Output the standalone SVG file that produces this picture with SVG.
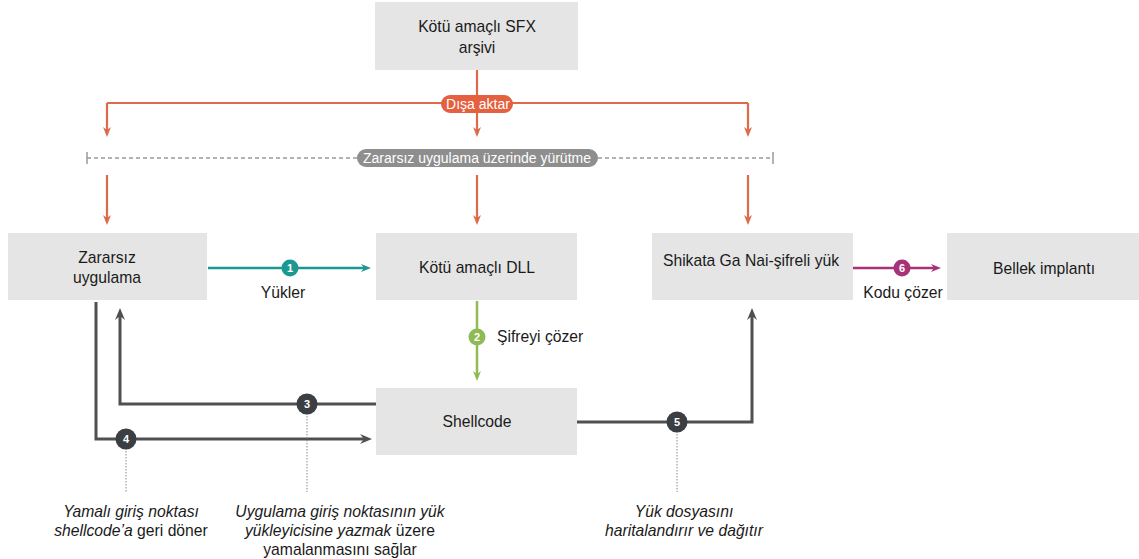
<svg xmlns="http://www.w3.org/2000/svg" width="1139" height="559" viewBox="0 0 1139 559">
<defs>
<style>
.box{fill:#e5e5e5}
.t{font-family:"Liberation Sans",Arial,sans-serif;font-size:15.7px;fill:#1a1a1a;text-anchor:middle}
.it{font-style:italic}
.n{font-family:"Liberation Sans",Arial,sans-serif;font-size:11px;font-weight:bold;fill:#ffffff;text-anchor:middle}
.pill{font-family:"Liberation Sans",Arial,sans-serif;font-size:14px;fill:#ffffff;text-anchor:middle}
.or{stroke:#dd6a4a;stroke-width:2.2;fill:none}
.gr{stroke:#505050;stroke-width:3;fill:none}
.lead{stroke:#888;stroke-width:1;stroke-dasharray:1.5 1.5;fill:none}
</style>
<marker id="aO" markerWidth="10" markerHeight="10" refX="5" refY="5" orient="auto" markerUnits="userSpaceOnUse"><path d="M0,1 L10,5 L0,9 L3,5 Z" fill="#dd6a4a"/></marker>
<marker id="aT" markerWidth="10" markerHeight="10" refX="5" refY="5" orient="auto" markerUnits="userSpaceOnUse"><path d="M0,1 L10,5 L0,9 L3,5 Z" fill="#1b9892"/></marker>
<marker id="aG" markerWidth="10" markerHeight="10" refX="5" refY="5" orient="auto" markerUnits="userSpaceOnUse"><path d="M0,1 L10,5 L0,9 L3,5 Z" fill="#8fbb55"/></marker>
<marker id="aM" markerWidth="10" markerHeight="10" refX="5" refY="5" orient="auto" markerUnits="userSpaceOnUse"><path d="M0,1 L10,5 L0,9 L3,5 Z" fill="#a83278"/></marker>
<marker id="aD" markerWidth="12" markerHeight="12" refX="6" refY="6" orient="auto" markerUnits="userSpaceOnUse"><path d="M0,1 L12,6 L0,11 L4,6 Z" fill="#505050"/></marker>
</defs>
<rect width="1139" height="559" fill="#ffffff"/>

<g id="node-sfx"><rect class="box" x="375" y="2" width="203" height="68"/><text class="t" x="477" y="32">Kötü amaçlı SFX</text><text class="t" x="477" y="53">arşivi</text></g>
<g id="node-app"><rect class="box" x="8" y="233" width="199" height="67"/><text class="t" x="107" y="263">Zararsız</text><text class="t" x="107" y="283">uygulama</text></g>
<g id="node-dll"><rect class="box" x="376" y="233" width="201" height="67"/><text class="t" x="477" y="273">Kötü amaçlı DLL</text></g>
<g id="node-sgn"><rect class="box" x="652" y="233" width="201" height="67"/><text class="t" x="751" y="266">Shikata Ga Nai-şifreli yük</text></g>
<g id="node-mem"><rect class="box" x="947" y="233" width="192" height="67"/><text class="t" x="1044" y="274">Bellek implantı</text></g>
<g id="node-shell"><rect class="box" x="376" y="388" width="201" height="67"/><text class="t" x="477" y="427">Shellcode</text></g>

<g id="connectors">
<path class="or" d="M107,103 H748"/>
<path class="or" d="M477,70 V132" marker-end="url(#aO)"/>
<path class="or" d="M107,103 V132" marker-end="url(#aO)"/>
<path class="or" d="M748,103 V132" marker-end="url(#aO)"/>
<rect x="441" y="95" width="72" height="18" rx="9" fill="#e5603f"/>
<text class="pill" x="478" y="109">Dışa aktar</text>

<path d="M87,158 H773" stroke="#9a9a9a" stroke-width="1.5" stroke-dasharray="4 3" fill="none"/>
<path d="M87,152 V164 M773,152 V164" stroke="#9a9a9a" stroke-width="1.5"/>
<rect x="357" y="149" width="241" height="18" rx="9" fill="#8e8e8e"/>
<text class="pill" x="477" y="163">Zararsız uygulama üzerinde yürütme</text>

<path class="or" d="M107,175 V220" marker-end="url(#aO)"/>
<path class="or" d="M477,175 V220" marker-end="url(#aO)"/>
<path class="or" d="M748,175 V220" marker-end="url(#aO)"/>

<path d="M208,268 H366" stroke="#1b9892" stroke-width="2.5" fill="none" marker-end="url(#aT)"/>
<circle cx="290" cy="268" r="8.5" fill="#1b9892"/><text class="n" x="290" y="272">1</text>
<text class="t" x="283" y="298">Yükler</text>

<path d="M477,301 V376" stroke="#8fbb55" stroke-width="2.5" fill="none" marker-end="url(#aG)"/>
<circle cx="477" cy="337" r="8.5" fill="#8fbb55"/><text class="n" x="477" y="341">2</text>
<text class="t" x="497" y="342" style="text-anchor:start">Şifreyi çözer</text>

<path d="M853,268 H936" stroke="#a83278" stroke-width="2.5" fill="none" marker-end="url(#aM)"/>
<circle cx="902" cy="268" r="8.5" fill="#a83278"/><text class="n" x="902" y="272">6</text>
<text class="t" x="903" y="298">Kodu çözer</text>

<path class="gr" d="M376,404 H120 V314" marker-end="url(#aD)"/>
<path class="gr" d="M96,302 V439 H366" marker-end="url(#aD)"/>
<path class="gr" d="M577,422 H752 V314" marker-end="url(#aD)"/>

<path class="lead" d="M307,404 V492"/>
<path class="lead" d="M126,439 V492"/>
<path class="lead" d="M677,422 V492"/>
<circle cx="307" cy="404" r="10.5" fill="#3b3e43"/><text class="n" x="307" y="408">3</text>
<circle cx="126" cy="439" r="10.5" fill="#3b3e43"/><text class="n" x="126" y="443">4</text>
<circle cx="677" cy="422" r="10.5" fill="#3b3e43"/><text class="n" x="677" y="426">5</text>
</g>

<g id="notes">
<text class="t it" x="131" y="517">Yamalı giriş noktası</text>
<text class="t" x="131" y="536"><tspan class="it">shellcode’a</tspan> geri döner</text>
<text class="t it" x="340" y="517">Uygulama giriş noktasının yük</text>
<text class="t" x="340" y="536"><tspan class="it">yükleyicisine yazmak</tspan> üzere</text>
<text class="t" x="340" y="555">yamalanmasını sağlar</text>
<text class="t it" x="684" y="517">Yük dosyasını</text>
<text class="t it" x="684" y="536">haritalandırır ve dağıtır</text>
</g>
</svg>
